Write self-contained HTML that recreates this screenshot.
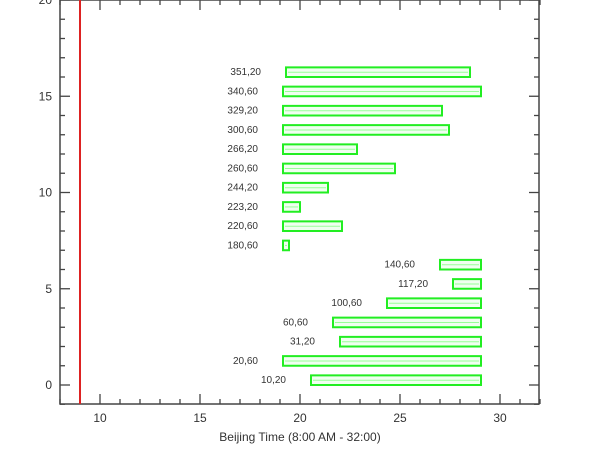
<!DOCTYPE html>
<html><head><meta charset="utf-8"><style>
html,body{margin:0;padding:0;background:#fff;width:600px;height:450px;overflow:hidden}
text{font-family:"Liberation Sans",sans-serif;fill:#333}
</style></head><body>
<svg id="chart" width="600" height="450" xmlns="http://www.w3.org/2000/svg"></svg>
<script>
const labels=["10,20","20,60","31,20","60,60","100,60","117,20","140,60","180,60","220,60","223,20","244,20","260,60","266,20","300,60","329,20","340,60","351,20"];
const starts=[20.55,19.15,22.0,21.65,24.35,27.65,27.0,19.15,19.15,19.15,19.15,19.15,19.15,19.15,19.15,19.15,19.3];
const ends=[29.05,29.05,29.05,29.05,29.05,29.05,29.05,19.45,22.1,20.0,21.4,24.75,22.85,27.45,27.1,29.05,28.5];
const xTicks=[10,15,20,25,30];
const yTicks=[0,5,10,15,20];
const markerX=9;
const L=60,R=539,T=0,B=404;
const xs=v=>100+(v-10)*20;
const ys=v=>385-v*19.25;
const svg=document.getElementById('chart');
const NS='http://www.w3.org/2000/svg';
function mk(t,a,p){const e=document.createElementNS(NS,t);for(const k in a)e.setAttribute(k,a[k]);(p||svg).appendChild(e);return e;}
const ax=mk('g',{});


const frame=mk('rect',{x:L,y:T,width:R-L,height:B-T,fill:'none',stroke:'#444','stroke-width':1.5},ax);


for(let v=8;v<=32;v++){const x=xs(v);const len=v%5==0?10:5;
 mk('line',{x1:x,y1:B,x2:x,y2:B-len,stroke:'#444','stroke-width':1.3},ax);
 mk('line',{x1:x,y1:T,x2:x,y2:T+len,stroke:'#444','stroke-width':1.3},ax);}
for(let v=-1;v<=20;v++){const y=ys(v);const len=v%5==0?10:5;
 mk('line',{x1:L,y1:y,x2:L+len,y2:y,stroke:'#444','stroke-width':1.3},ax);
 mk('line',{x1:R,y1:y,x2:R-len,y2:y,stroke:'#444','stroke-width':1.3},ax);}
xTicks.forEach(v=>{const t=mk('text',{x:xs(v),y:B+18,'text-anchor':'middle','font-size':12},ax);t.textContent=v;
 
 });
yTicks.forEach(v=>{const t=mk('text',{x:L-8,y:ys(v)+4,'text-anchor':'end','font-size':12},ax);t.textContent=v;
 
 });
const xt=mk('text',{x:300,y:441,'text-anchor':'middle','font-size':12},ax);xt.textContent='Beijing Time (8:00 AM - 32:00)';


const red=mk('line',{x1:xs(markerX),y1:T,x2:xs(markerX),y2:B,stroke:'#dd2222','stroke-width':2});


labels.forEach((lb,i)=>{
 const g=mk('g',{});
 
 
 const x0=xs(starts[i]),x1=xs(ends[i]),y0=ys(i+0.5),y1=ys(i);
 mk('rect',{x:x0,y:y0,width:x1-x0,height:y1-y0,fill:'#f0fff0',stroke:'#22ee22','stroke-width':2},g);
 mk('line',{x1:x0+2,y1:(y0+y1)/2,x2:x1-2,y2:(y0+y1)/2,stroke:'#9f9','stroke-width':1},g);
 const t=mk('text',{x:x0-25,y:y1-2,'text-anchor':'end','font-size':10},g);t.textContent=lb;
});
</script>
</body></html>
